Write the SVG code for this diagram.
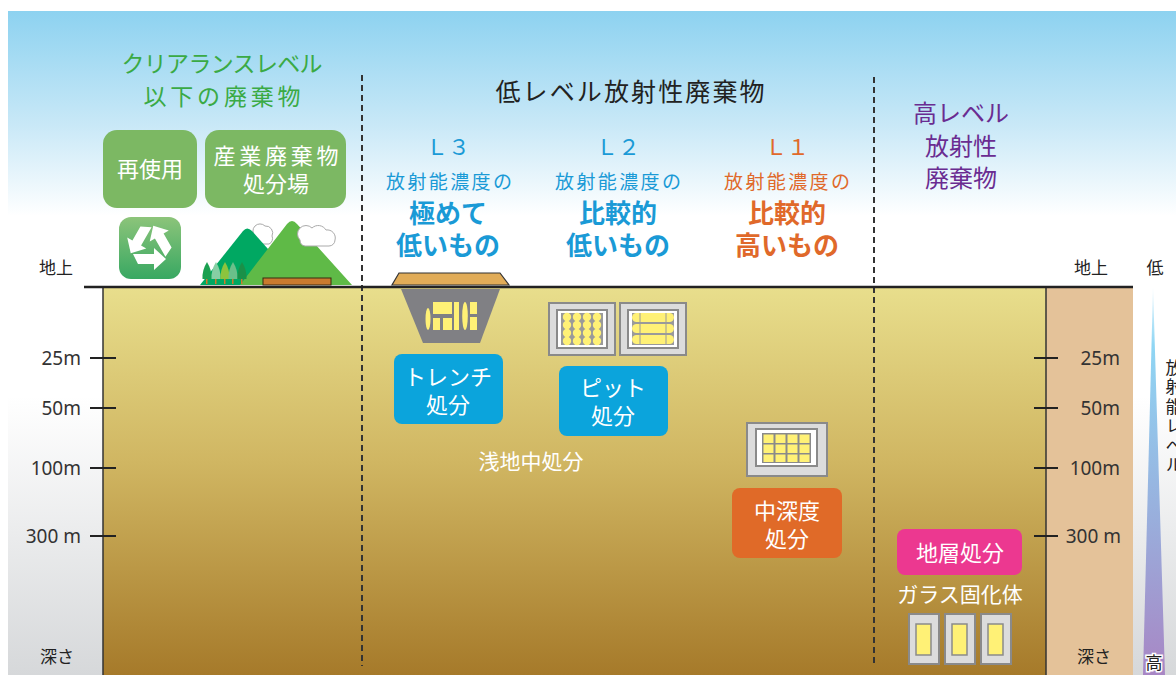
<svg xmlns="http://www.w3.org/2000/svg" width="1176" height="675" viewBox="0 0 1176 675">
  <defs>
    <linearGradient id="sky" x1="0" y1="0" x2="0" y2="1">
      <stop offset="0" stop-color="#8dd2f0"/>
      <stop offset="0.55" stop-color="#c8e8f7"/>
      <stop offset="1" stop-color="#ffffff"/>
    </linearGradient>
    <linearGradient id="haze" x1="0" y1="0" x2="0" y2="1">
      <stop offset="0" stop-color="#ffffff"/>
      <stop offset="0.4" stop-color="#ffffff"/>
      <stop offset="1" stop-color="#d6d8da"/>
    </linearGradient>
    <linearGradient id="soil" x1="0" y1="0" x2="0" y2="1">
      <stop offset="0" stop-color="#e8de8c"/>
      <stop offset="0.45" stop-color="#d0b662"/>
      <stop offset="1" stop-color="#a67a2a"/>
    </linearGradient>
    <linearGradient id="recycleBg" x1="0" y1="0" x2="0" y2="1">
      <stop offset="0" stop-color="#8cc47a"/>
      <stop offset="1" stop-color="#38a862"/>
    </linearGradient>
    <linearGradient id="levelBar" x1="0" y1="0" x2="0" y2="1">
      <stop offset="0" stop-color="#8fd6f4" stop-opacity="0.2"/>
      <stop offset="0.15" stop-color="#8fd6f4"/>
      <stop offset="0.6" stop-color="#99aedc"/>
      <stop offset="1" stop-color="#a886c4"/>
    </linearGradient>
    <path id="recycleArrow" d="M-17,8 L4,8 L4,2 L16,13 L4,24 L4,18 L-12,18 Z" fill="#ffffff"/>
  </defs>
  <style>
    text { font-family: "Noto Sans CJK JP", "Noto Sans", sans-serif; }
    .scale { font-size: 19px; fill: #333333; font-family: "Noto Sans", "Noto Sans CJK JP", sans-serif; }
    .small { font-size: 17px; fill: #222222; }
    .boxText { fill: #ffffff; font-size: 22px; text-anchor: middle; }
    .lowNote { font-size: 19px; text-anchor: middle; }
    .big { font-size: 26px; font-weight: bold; text-anchor: middle; }
    .blue { fill: #1a9ad6; }
    .orange { fill: #e0692a; }
    .green { fill: #3aaa45; }
    .purple { fill: #6a2c91; }
    .frame { fill: #dcdcdc; stroke: #8a8a8a; stroke-width: 2; }
    .inner { fill: #ffffff; stroke: #8a8a8a; stroke-width: 2; }
    .yel { fill: #fff176; }
    .tick { stroke: #222222; stroke-width: 2; }
    .divider { stroke: #333333; stroke-width: 2; stroke-dasharray: 6 4; }
  </style>

  <!-- backdrop -->
  <rect x="0" y="0" width="1176" height="675" fill="#ffffff"/>
  <rect x="8" y="210" width="1168" height="465" fill="url(#haze)"/>
  <rect x="8" y="11" width="1168" height="205" fill="url(#sky)"/>

  <!-- ground -->
  <rect x="103" y="288" width="943" height="387" fill="url(#soil)"/>
  <rect x="1046" y="288" width="87" height="387" fill="#e4c299"/>
  <line x1="103" y1="288" x2="103" y2="675" stroke="#333333" stroke-width="1.5"/>
  <line x1="1046" y1="288" x2="1046" y2="675" stroke="#333333" stroke-width="1.5"/>

  <!-- radiation level bar -->
  <polygon points="1153,287 1165,675 1143,675" fill="url(#levelBar)"/>

  <!-- category dividers -->
  <g id="dividers">
    <line class="divider" x1="362" y1="75" x2="362" y2="666"/>
    <line class="divider" x1="874" y1="77" x2="874" y2="666"/>
  </g>

  <!-- clearance level section -->
  <g id="clearance-title">
    <text x="222" y="72" font-size="23" class="green" text-anchor="middle" textLength="201">クリアランスレベル</text>
    <text x="222" y="105" font-size="23" class="green" text-anchor="middle" textLength="157">以下の廃棄物</text>
  </g>
  <g id="reuse">
    <rect x="103" y="130" width="94" height="78" rx="14" fill="#7cb863"/>
    <text class="boxText" x="150" y="177">再使用</text>
  </g>
  <g id="industrial-landfill">
    <rect x="205" y="130" width="141" height="78" rx="14" fill="#7cb863"/>
    <text class="boxText" x="276" y="164" textLength="125">産業廃棄物</text>
    <text class="boxText" x="276" y="192">処分場</text>
  </g>
  <g id="recycle-icon">
    <rect x="119" y="217" width="62" height="62" rx="12" fill="url(#recycleBg)"/>
    <g transform="translate(150,246)">
      <use href="#recycleArrow"/>
      <use href="#recycleArrow" transform="rotate(120)"/>
      <use href="#recycleArrow" transform="rotate(240)"/>
    </g>
  </g>
  <g id="mountains">
    <path d="M255,236 a7,7 0 0 1 10,-10 a7,7 0 0 1 7,10 a6,6 0 0 1 -3,8 h-12 a5,5 0 0 1 -2,-8 z" fill="#ffffff" stroke="#aaaaaa" stroke-width="1"/>
    <path d="M200,285 L243,231 Q247,226 252,231 L300,285 Z" fill="#00a862"/>
    <path d="M240,285 L287,224 Q292,218 297,224 L352,285 Z" fill="#5fba47"/>
    <path d="M300,240 a8,8 0 0 1 12,-12 a9,9 0 0 1 14,2 a8,8 0 0 1 9,10 a6,6 0 0 1 -6,6 h-24 a6,6 0 0 1 -5,-6 z" fill="#ffffff" stroke="#aaaaaa" stroke-width="1"/>
    <g id="trees">
      <rect x="206" y="276" width="1.5" height="8" fill="#d07a2a"/>
      <path d="M207,262 Q212,270 211.5,279 L202.5,279 Q202,270 207,262 Z" fill="#1aa050"/>
      <rect x="215" y="276" width="1.5" height="8" fill="#d07a2a"/>
      <path d="M216,262 Q221,270 220.5,279 L211.5,279 Q211,270 216,262 Z" fill="#86cfa4"/>
      <rect x="224" y="276" width="1.5" height="8" fill="#d07a2a"/>
      <path d="M225,262 Q230,270 229.5,279 L220.5,279 Q220,270 225,262 Z" fill="#8cc43e"/>
      <rect x="232" y="276" width="1.5" height="8" fill="#d07a2a"/>
      <path d="M233,262 Q238,270 237.5,279 L228.5,279 Q228,270 233,262 Z" fill="#6abf8a"/>
      <rect x="241" y="276" width="1.5" height="8" fill="#d07a2a"/>
      <path d="M242,262 Q247,270 246.5,279 L237.5,279 Q237,270 242,262 Z" fill="#1a9048"/>
    </g>
    <rect x="263" y="278" width="68" height="7" fill="#c97a2e" stroke="#3a2a10" stroke-width="1"/>
  </g>

  <!-- low-level waste section -->
  <g id="llw-title">
    <text x="630" y="101" font-size="25" fill="#222222" text-anchor="middle" textLength="269">低レベル放射性廃棄物</text>
  </g>
  <g id="l3-label">
    <text class="blue" x="448" y="155" font-size="22" text-anchor="middle">Ｌ３</text>
    <text class="lowNote blue" x="449" y="189" textLength="126">放射能濃度の</text>
    <text class="big blue" x="448" y="223">極めて</text>
    <text class="big blue" x="448" y="255">低いもの</text>
  </g>
  <g id="l2-label">
    <text class="blue" x="618" y="155" font-size="22" text-anchor="middle">Ｌ２</text>
    <text class="lowNote blue" x="618" y="189" textLength="126">放射能濃度の</text>
    <text class="big blue" x="618" y="223">比較的</text>
    <text class="big blue" x="618" y="255">低いもの</text>
  </g>
  <g id="l1-label">
    <text class="orange" x="787" y="155" font-size="22" text-anchor="middle">Ｌ１</text>
    <text class="lowNote orange" x="787" y="189" textLength="126">放射能濃度の</text>
    <text class="big orange" x="787" y="223">比較的</text>
    <text class="big orange" x="787" y="255">高いもの</text>
  </g>

  <!-- high-level waste section -->
  <g id="hlw-title" font-size="24" text-anchor="middle">
    <text class="purple" x="961" y="122">高レベル</text>
    <text class="purple" x="961" y="155">放射性</text>
    <text class="purple" x="961" y="187">廃棄物</text>
  </g>

  <!-- ground surface line -->
  <line x1="84" y1="287" x2="1133" y2="287" stroke="#222222" stroke-width="2.5"/>

  <!-- trench disposal -->
  <g id="trench">
    <polygon points="399,273 500,273 509,285 392,285" fill="#e1ac58" stroke="#333333" stroke-width="1.2"/>
    <polygon points="401,289 500,289 480,343 423,343" fill="#808084"/>
    <ellipse class="yel" cx="428" cy="319" rx="2.5" ry="11"/>
    <rect class="yel" x="433" y="302" width="19" height="12"/>
    <rect class="yel" x="433" y="318" width="7" height="12"/>
    <rect class="yel" x="443" y="318" width="9" height="12"/>
    <rect class="yel" x="454" y="302" width="5" height="28"/>
    <ellipse class="yel" cx="465" cy="316" rx="2.8" ry="14"/>
    <rect class="yel" x="470" y="302" width="7" height="12"/>
    <rect class="yel" x="470" y="317" width="7" height="13"/>
  </g>
  <g id="trench-label">
    <rect x="394" y="354" width="109" height="70" rx="8" fill="#0ba4dc"/>
    <text class="boxText" x="448" y="385">トレンチ</text>
    <text class="boxText" x="448" y="413">処分</text>
  </g>

  <!-- pit disposal -->
  <g id="pit">
    <rect class="frame" x="549" y="303" width="66" height="52"/>
    <rect class="inner" x="557" y="310" width="50" height="38"/>
    <rect x="561" y="313" width="42" height="32" fill="#9a9a9a"/>
    <g class="yel">
      <circle cx="567" cy="317" r="4.2"/><circle cx="577" cy="317" r="4.2"/><circle cx="587" cy="317" r="4.2"/><circle cx="597" cy="317" r="4.2"/>
      <circle cx="567" cy="325" r="4.2"/><circle cx="577" cy="325" r="4.2"/><circle cx="587" cy="325" r="4.2"/><circle cx="597" cy="325" r="4.2"/>
      <circle cx="567" cy="333" r="4.2"/><circle cx="577" cy="333" r="4.2"/><circle cx="587" cy="333" r="4.2"/><circle cx="597" cy="333" r="4.2"/>
      <circle cx="567" cy="341" r="4.2"/><circle cx="577" cy="341" r="4.2"/><circle cx="587" cy="341" r="4.2"/><circle cx="597" cy="341" r="4.2"/>
    </g>
    <rect class="frame" x="620" y="303" width="66" height="52"/>
    <rect class="inner" x="628" y="310" width="50" height="38"/>
    <rect x="632" y="313" width="42" height="32" fill="#9a9a9a"/>
    <g class="yel">
      <rect x="632" y="313" width="42" height="9" rx="4.5"/>
      <rect x="632" y="324" width="42" height="9" rx="4.5"/>
      <rect x="632" y="335" width="42" height="9" rx="4.5"/>
    </g>
    <g stroke="#9a9a9a" stroke-width="1">
      <line x1="640" y1="313" x2="640" y2="345"/>
      <line x1="666" y1="313" x2="666" y2="345"/>
    </g>
  </g>
  <g id="pit-label">
    <rect x="559" y="366" width="109" height="70" rx="8" fill="#0ba4dc"/>
    <text class="boxText" x="613" y="396">ピット</text>
    <text class="boxText" x="613" y="424">処分</text>
  </g>
  <text x="531" y="469" font-size="21" fill="#ffffff" text-anchor="middle">浅地中処分</text>

  <!-- intermediate-depth disposal -->
  <g id="intermediate">
    <rect class="frame" x="747" y="423" width="80" height="53"/>
    <rect class="inner" x="756" y="429" width="61" height="37"/>
    <rect x="762" y="433" width="49" height="30" fill="#8a8a8a"/>
    <g class="yel">
      <rect x="763.5" y="434.5" width="10" height="8.5"/><rect x="775.5" y="434.5" width="10" height="8.5"/><rect x="787.5" y="434.5" width="10" height="8.5"/><rect x="799.5" y="434.5" width="10" height="8.5"/>
      <rect x="763.5" y="444.5" width="10" height="8.5"/><rect x="775.5" y="444.5" width="10" height="8.5"/><rect x="787.5" y="444.5" width="10" height="8.5"/><rect x="799.5" y="444.5" width="10" height="8.5"/>
      <rect x="763.5" y="454.5" width="10" height="7.5"/><rect x="775.5" y="454.5" width="10" height="7.5"/><rect x="787.5" y="454.5" width="10" height="7.5"/><rect x="799.5" y="454.5" width="10" height="7.5"/>
    </g>
  </g>
  <g id="intermediate-label">
    <rect x="732" y="488" width="110" height="70" rx="8" fill="#e06a28"/>
    <text class="boxText" x="787" y="519">中深度</text>
    <text class="boxText" x="787" y="547">処分</text>
  </g>

  <!-- geological disposal -->
  <g id="geological-label">
    <rect x="897" y="529" width="125" height="46" rx="8" fill="#ec3890"/>
    <text class="boxText" x="960" y="561" font-size="24">地層処分</text>
  </g>
  <text x="960" y="602" font-size="21" fill="#ffffff" text-anchor="middle">ガラス固化体</text>
  <g id="vitrified">
    <rect class="frame" x="909" y="614" width="30" height="50"/>
    <rect class="yel" x="916" y="624" width="15" height="31" stroke="#8a8a8a" stroke-width="1.5"/>
    <rect class="frame" x="945" y="614" width="30" height="50"/>
    <rect class="yel" x="952" y="624" width="15" height="31" stroke="#8a8a8a" stroke-width="1.5"/>
    <rect class="frame" x="981" y="614" width="30" height="50"/>
    <rect class="yel" x="988" y="624" width="15" height="31" stroke="#8a8a8a" stroke-width="1.5"/>
  </g>

  <!-- depth scales -->
  <g id="depth-left">
    <text class="small" x="73" y="274" text-anchor="end">地上</text>
    <line class="tick" x1="90" y1="358" x2="116" y2="358"/>
    <line class="tick" x1="90" y1="408" x2="116" y2="408"/>
    <line class="tick" x1="90" y1="468" x2="116" y2="468"/>
    <line class="tick" x1="90" y1="536" x2="116" y2="536"/>
    <text class="scale" x="81" y="365" text-anchor="end">25m</text>
    <text class="scale" x="81" y="415" text-anchor="end">50m</text>
    <text class="scale" x="81" y="475" text-anchor="end">100m</text>
    <text class="scale" x="81" y="543" text-anchor="end">300 m</text>
    <text class="small" x="74" y="663" text-anchor="end">深さ</text>
  </g>
  <g id="depth-right">
    <text class="small" x="1108" y="274" text-anchor="end">地上</text>
    <line class="tick" x1="1034" y1="358" x2="1058" y2="358"/>
    <line class="tick" x1="1034" y1="408" x2="1058" y2="408"/>
    <line class="tick" x1="1034" y1="468" x2="1058" y2="468"/>
    <line class="tick" x1="1034" y1="536" x2="1058" y2="536"/>
    <text class="scale" x="1120" y="365" text-anchor="end">25m</text>
    <text class="scale" x="1120" y="415" text-anchor="end">50m</text>
    <text class="scale" x="1120" y="475" text-anchor="end">100m</text>
    <text class="scale" x="1121" y="543" text-anchor="end">300 m</text>
    <text class="small" x="1111" y="663" text-anchor="end">深さ</text>
  </g>

  <!-- radiation level legend -->
  <g id="level-legend" font-size="17" fill="#222222">
    <text x="1155" y="274" text-anchor="middle">低</text>
    <text x="1154" y="669" text-anchor="middle" stroke="#ffffff" stroke-width="3" paint-order="stroke">高</text>
    <text x="1174" y="359" font-size="17" style="writing-mode: vertical-rl; text-orientation: upright;" letter-spacing="2.5">放射能レベル</text>
  </g>
</svg>
